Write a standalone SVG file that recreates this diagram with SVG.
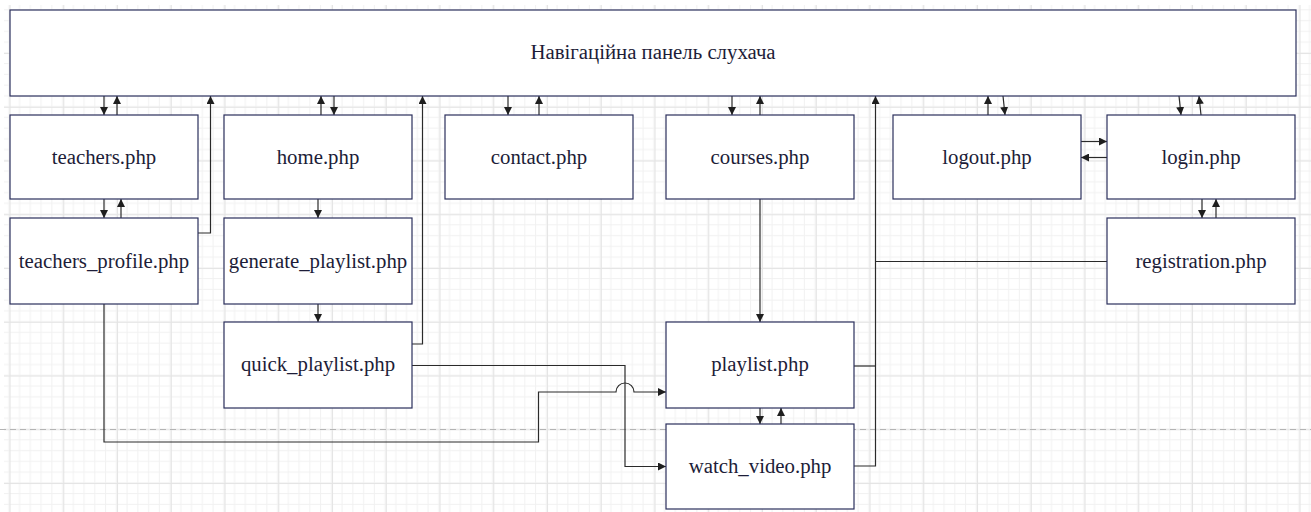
<svg xmlns="http://www.w3.org/2000/svg" width="1311" height="512" viewBox="0 0 1311 512">
  <style>
    .node rect { fill: #ffffff; stroke: #2b2f5c; stroke-width: 1.2; }
    .node text { font-family: 'Liberation Serif', 'DejaVu Serif', 'Times New Roman', serif; font-size: 20.8px; fill: #1d1d38; text-anchor: middle; }
    .conn path { fill: none; stroke: #2a2a2a; stroke-width: 1.2; }
    .arrow { marker-end: url(#head); }
  </style>
  <defs>
    <pattern id="minor" patternUnits="userSpaceOnUse" x="9.55" y="-0.7" width="10.75" height="10.75">
      <path d="M0,0.5 H10.75 M0.5,0 V10.75" fill="none" stroke="#f1f1f1" stroke-width="1"/>
    </pattern>
    <pattern id="major" patternUnits="userSpaceOnUse" x="9.55" y="-0.7" width="53.75" height="53.75">
      <rect width="53.75" height="53.75" fill="url(#minor)"/>
      <path d="M0,0.5 H53.75 M0.5,0 V53.75" fill="none" stroke="#e4e4e4" stroke-width="1"/>
    </pattern>
    <marker id="head" markerUnits="userSpaceOnUse" viewBox="0 0 8 8" markerWidth="8" markerHeight="8" refX="8" refY="4" orient="auto">
      <path d="M0,0 L8,4 L0,8 Z" fill="#1e1e1e"/>
    </marker>
  </defs>

  <!-- page background with drawing grid -->
  <rect x="0" y="0" width="1311" height="512" fill="#ffffff"/>
  <rect x="4" y="5" width="1307" height="507" fill="url(#major)"/>
  <!-- page break -->
  <path d="M0,429.5 H1311" stroke="#b4b4b4" stroke-width="1" stroke-dasharray="6,4" fill="none"/>

  <!-- connectors -->
  <g id="connectors" class="conn">
    <!-- teachers / navigation -->
    <path class="arrow" d="M104,96 V115"/>
    <path class="arrow" d="M117,115 V96"/>
    <!-- teachers / teachers_profile -->
    <path class="arrow" d="M104,199 V218"/>
    <path class="arrow" d="M121,218 V199"/>
    <!-- teachers_profile to navigation -->
    <path class="arrow" d="M198,233 H210.5 V96"/>
    <!-- home / navigation -->
    <path class="arrow" d="M321,115 V96"/>
    <path class="arrow" d="M334,96 V115"/>
    <!-- home to generate_playlist to quick_playlist -->
    <path class="arrow" d="M318,199 V218"/>
    <path class="arrow" d="M318,304 V322"/>
    <!-- quick_playlist to navigation -->
    <path class="arrow" d="M412,344 H422.5 V96"/>
    <!-- contact / navigation -->
    <path class="arrow" d="M508,96 V115"/>
    <path class="arrow" d="M539,115 V96"/>
    <!-- courses / navigation -->
    <path class="arrow" d="M732,96 V115"/>
    <path class="arrow" d="M760,115 V96"/>
    <!-- courses to playlist -->
    <path class="arrow" d="M760,199 V322"/>
    <!-- playlist, watch_video, registration back to navigation -->
    <path class="arrow" d="M854,466 H875.5 V96"/>
    <path d="M854,366 H875.5"/>
    <path d="M1107,261.5 H875.5"/>
    <!-- logout / navigation -->
    <path class="arrow" d="M988,115 V96"/>
    <path class="arrow" d="M1003,96 L1005,115"/>
    <!-- logout / login -->
    <path class="arrow" d="M1081,141.5 H1107"/>
    <path class="arrow" d="M1107,157.5 H1081"/>
    <!-- login / navigation -->
    <path class="arrow" d="M1179,96 L1181,115"/>
    <path class="arrow" d="M1201,115 L1199,96"/>
    <!-- login / registration -->
    <path class="arrow" d="M1202,199 V218"/>
    <path class="arrow" d="M1216,218 V199"/>
    <!-- quick_playlist to watch_video -->
    <path class="arrow" d="M412,365.5 H625 V466.5 H666"/>
    <!-- teachers_profile to playlist, hopping over the line above -->
    <path class="arrow" d="M104,304 V442 H538.5 V392 H616 A9,9 0 0 1 634,392 H666"/>
    <!-- playlist / watch_video -->
    <path class="arrow" d="M760,408 V424"/>
    <path class="arrow" d="M781,424 V408"/>
  </g>

  <!-- nodes -->
  <g id="nav" class="node">
    <rect x="10" y="10" width="1286" height="86"/>
    <text x="653" y="59">Навігаційна панель слухача</text>
  </g>
  <g id="teachers" class="node">
    <rect x="10" y="115" width="188" height="84"/>
    <text x="104" y="164">teachers.php</text>
  </g>
  <g id="home" class="node">
    <rect x="224" y="115" width="188" height="84"/>
    <text x="318" y="164">home.php</text>
  </g>
  <g id="contact" class="node">
    <rect x="445" y="115" width="188" height="84"/>
    <text x="539" y="164">contact.php</text>
  </g>
  <g id="courses" class="node">
    <rect x="666" y="115" width="188" height="84"/>
    <text x="760" y="164">courses.php</text>
  </g>
  <g id="logout" class="node">
    <rect x="893" y="115" width="188" height="84"/>
    <text x="987" y="164">logout.php</text>
  </g>
  <g id="login" class="node">
    <rect x="1107" y="115" width="188" height="84"/>
    <text x="1201" y="164">login.php</text>
  </g>
  <g id="teachers_profile" class="node">
    <rect x="10" y="218" width="188" height="86"/>
    <text x="104" y="268">teachers_profile.php</text>
  </g>
  <g id="generate_playlist" class="node">
    <rect x="224" y="218" width="188" height="86"/>
    <text x="318" y="268">generate_playlist.php</text>
  </g>
  <g id="registration" class="node">
    <rect x="1107" y="218" width="188" height="86"/>
    <text x="1201" y="268">registration.php</text>
  </g>
  <g id="quick_playlist" class="node">
    <rect x="224" y="322" width="188" height="86"/>
    <text x="318" y="371">quick_playlist.php</text>
  </g>
  <g id="playlist" class="node">
    <rect x="666" y="322" width="188" height="86"/>
    <text x="760" y="371">playlist.php</text>
  </g>
  <g id="watch_video" class="node">
    <rect x="666" y="424" width="188" height="85"/>
    <text x="760" y="473">watch_video.php</text>
  </g>
</svg>
